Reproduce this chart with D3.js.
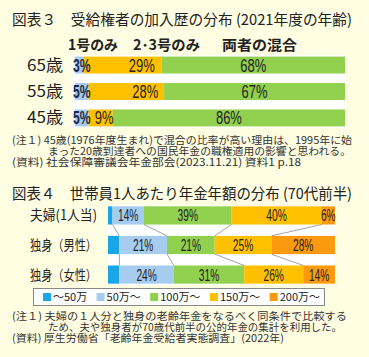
<!DOCTYPE html>
<html><head><meta charset="utf-8">
<script src="https://cdn.jsdelivr.net/npm/d3@7"></script>
<style>
html,body{margin:0;padding:0;background:#fffde2;}
svg{display:block;}
</style></head>
<body>
<script>
// ---- Data: chart 3 ----
const ages = ["65歳", "55歳", "45歳"];
const histSeries = ["1号のみ", "2･3号のみ", "両者の混合"];
const only1 = [3, 5, 5];
const only23 = [29, 28, 9];
const mixed = [68, 67, 86];

// ---- Data: chart 4 ----
const households = ["夫婦(1人当)", "独身（男性）", "独身（女性）"];
const bands = ["～50万", "50万～", "100万～", "150万～", "200万～"];
const under50 = [2, 5, 5];
const from50 = [14, 21, 24];
const from100 = [39, 21, 31];
const from150 = [40, 25, 26];
const from200 = [6, 28, 14];

// ---- Texts ----
const title3 = "図表３　受給権者の加入歴の分布 (2021年度の年齢)";
const notes3 = ["(注１) 45歳(1976年度生まれ)で混合の比率が高い理由は、1995年に始",
                "まった20歳到達者への国民年金の職権適用の影響と思われる。",
                "(資料) 社会保障審議会年金部会(2023.11.21) 資料1 p.18"];
const title4 = "図表４　世帯員1人あたり年金年額の分布 (70代前半)";
const notes4 = ["(注１) 夫婦の１人分と独身の老齢年金をなるべく同条件で比較する",
                "ため、夫や独身者が70歳代前半の公的年金の集計を利用した。",
                "(資料) 厚生労働省「老齢年金受給者実態調査」(2022年)"];

const W = 369, H = 357;
const JP = "'Noto Sans CJK JP', 'Noto Sans', sans-serif";
const NUM = "'Liberation Sans', 'Noto Sans', sans-serif";
const c3 = ["#a6cdf0", "#ffc000", "#92d050"];
const c4 = ["#19a6e6", "#a6cdf0", "#92d050", "#ffc000", "#fb9a0e"];

const svg = d3.select("body").append("svg").attr("width", W).attr("height", H);

function fitText(sel, len) {
  sel.attr("textLength", len).attr("lengthAdjust", "spacingAndGlyphs");
}
function condense(sel, f) {
  sel.each(function () {
    const l = this.getComputedTextLength();
    d3.select(this).attr("textLength", l * f).attr("lengthAdjust", "spacingAndGlyphs");
  });
}

// ===== Chart 3 =====
svg.append("text").attr("x", 12).attr("y", 25).attr("font-family", JP).attr("font-size", 15)
  .attr("fill", "#222").text(title3).call(fitText, 340);

const legX3 = [68, 133, 222], legW3 = [50, 67, 75];
histSeries.forEach((s, i) => {
  svg.append("text").attr("x", legX3[i]).attr("y", 50).attr("font-family", JP)
    .attr("font-size", 14).attr("font-weight", "bold").attr("fill", "#222").text(s)
    .call(fitText, legW3[i]);
});

const rows3 = ages.map((a, i) => ({ age: a, s0: only1[i], s1: only23[i], s2: mixed[i] }));
const stack3 = d3.stack().keys(["s0", "s1", "s2"]).offset(d3.stackOffsetExpand)(rows3);
const x3 = d3.scaleLinear().domain([0, 1]).range([75, 345]);
const y3 = d3.scaleBand().domain(ages).range([55, 128]).paddingInner(0.36).paddingOuter(0.06);

svg.append("rect").attr("x", 72).attr("y", 55).attr("width", 345 - 72).attr("height", 128 - 55).attr("fill", "#ffffff");

stack3.forEach((layer, k) => {
  svg.append("g").selectAll("rect").data(layer).join("rect")
    .attr("x", d => x3(d[0])).attr("width", d => x3(d[1]) - x3(d[0]))
    .attr("y", d => y3(d.data.age)).attr("height", y3.bandwidth()).attr("fill", c3[k]);
});
// labels
stack3.forEach((layer, k) => {
  const key = layer.key;
  svg.append("g").selectAll("text").data(layer).join("text")
    .attr("x", d => {
      const a = x3(d[0]), b = x3(d[1]), w = b - a;
      if (k === 0) return a - 2;
      if (k === 1) return w > 50 ? a + 0.75 * w : (a + b) / 2 + 3.5;
      return (a + b) / 2;
    })
    .attr("y", d => y3(d.data.age) + y3.bandwidth() / 2 + 6.5)
    .attr("text-anchor", k === 0 ? "start" : "middle")
    .attr("font-family", NUM)
    .attr("font-size", k === 0 ? 19 : 18)
    .attr("font-weight", k === 0 ? "bold" : "normal")
    .attr("fill", k === 0 ? "#1c2a4a" : "#222")
    .text(d => d.data[key] + "%")
    .call(condense, k === 0 ? 0.64 : 0.72);
});
svg.append("g").selectAll("text").data(ages).join("text")
  .attr("x", 63).attr("y", d => y3(d) + y3.bandwidth() / 2 + 5.5)
  .attr("text-anchor", "end").attr("font-family", JP).attr("font-size", 16).attr("fill", "#222")
  .text(d => d).call(fitText, 36);

const noteX = [12, 48, 12];
const noteW3 = [340, 303, 289];
notes3.forEach((t, i) => {
  svg.append("text").attr("x", noteX[i]).attr("y", 144 + i * 11).attr("font-family", JP)
    .attr("font-size", 10.5).attr("fill", "#333").text(t).call(fitText, noteW3[i]);
});

// ===== Chart 4 =====
svg.append("text").attr("x", 12).attr("y", 199).attr("font-family", JP).attr("font-size", 15)
  .attr("fill", "#222").text(title4).call(fitText, 340);

const rows4 = households.map((h, i) => ({ h: h, b0: under50[i], b1: from50[i], b2: from100[i], b3: from150[i], b4: from200[i] }));
const keys4 = ["b0", "b1", "b2", "b3", "b4"];
const stack4 = d3.stack().keys(keys4).offset(d3.stackOffsetExpand)(rows4);
const x4 = d3.scaleLinear().domain([0, 1]).range([108, 335]);
const y4 = d3.scaleBand().domain(households).range([205, 285]).paddingInner(0.385).paddingOuter(0.045);

svg.append("rect").attr("x", 108).attr("y", 205).attr("width", 335 - 108).attr("height", 80).attr("fill", "#ffffff");

stack4.forEach((layer, k) => {
  svg.append("g").selectAll("rect").data(layer).join("rect")
    .attr("x", d => x4(d[0])).attr("width", d => x4(d[1]) - x4(d[0]))
    .attr("y", d => y4(d.data.h)).attr("height", y4.bandwidth()).attr("fill", c4[k]);
});
// series lines
const lines = [];
for (let i = 0; i < households.length - 1; i++) {
  for (let k = 0; k < keys4.length - 1; k++) {
    lines.push({ x1: x4(stack4[k][i][1]), y1: y4(households[i]) + y4.bandwidth(),
                 x2: x4(stack4[k][i + 1][1]), y2: y4(households[i + 1]) });
  }
}
svg.append("g").selectAll("line").data(lines).join("line")
  .attr("x1", d => d.x1).attr("y1", d => d.y1).attr("x2", d => d.x2).attr("y2", d => d.y2)
  .attr("stroke", "#8a8a8a").attr("stroke-width", 0.8);

stack4.forEach((layer, k) => {
  if (k === 0) return;
  const key = layer.key;
  svg.append("g").selectAll("text").data(layer).join("text")
    .attr("x", d => (x4(d[0]) + x4(d[1])) / 2)
    .attr("y", d => y4(d.data.h) + y4.bandwidth() / 2 + 6)
    .attr("text-anchor", "middle").attr("font-family", NUM).attr("font-size", 17)
    .attr("fill", "#222").text(d => d.data[key] + "%")
    .call(condense, 0.6);
});
svg.append("g").selectAll("text").data(households).join("text")
  .attr("x", 97).attr("y", d => y4(d) + y4.bandwidth() / 2 + 5)
  .attr("text-anchor", "end").attr("font-family", JP).attr("font-size", 14).attr("fill", "#222")
  .text(d => d).call(fitText, 67);

// legend
svg.append("rect").attr("x", 33.5).attr("y", 288.5).attr("width", 291).attr("height", 17)
  .attr("fill", "#ffffff").attr("stroke", "#888").attr("stroke-width", 1);
const legG = svg.append("g");
const items = bands.map((b, i) => {
  const g = legG.append("g");
  g.append("rect").attr("x", 0).attr("y", 293).attr("width", 8).attr("height", 8).attr("fill", c4[i]);
  const t = g.append("text").attr("x", 10).attr("y", 301).attr("font-family", JP)
    .attr("font-size", 11).attr("fill", "#222").text(b);
  return { g: g, w: 10 + t.node().getComputedTextLength() };
});
const legStart = 43, legEnd = 320;
const totalW = d3.sum(items, d => d.w);
const gap = (legEnd - legStart - totalW) / (items.length - 1);
let lx = legStart;
items.forEach(it => { it.g.attr("transform", `translate(${lx},0)`); lx += it.w + gap; });

const noteW4 = [335, 294, 272];
notes4.forEach((t, i) => {
  svg.append("text").attr("x", noteX[i]).attr("y", 320 + i * 11).attr("font-family", JP)
    .attr("font-size", 10.5).attr("fill", "#333").text(t).call(fitText, noteW4[i]);
});
</script>
</body></html>
